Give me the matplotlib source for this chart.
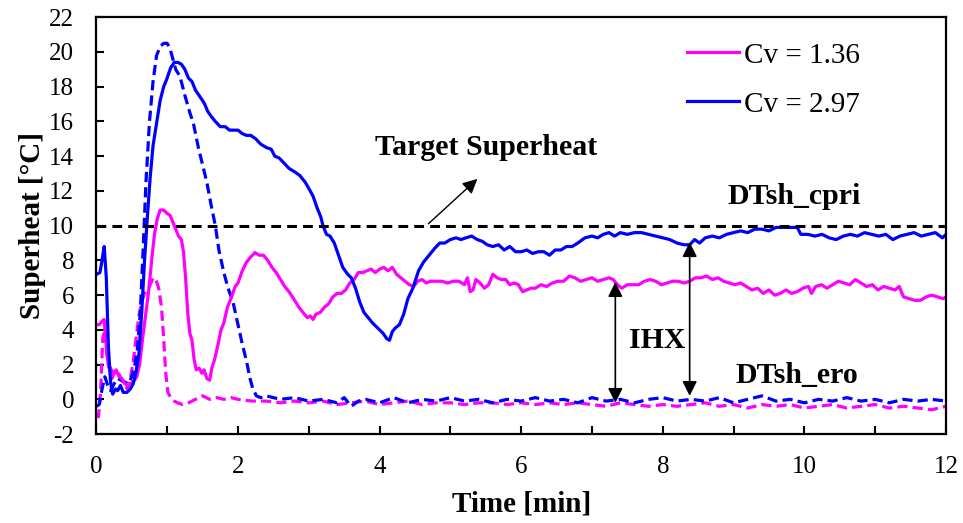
"""Superheat vs tiempo para dos aperturas de valvula (Cv = 1.36 y 2.97).

Lineas continuas: DTsh_cpri, lineas discontinuas: DTsh_ero.
"""

import matplotlib

matplotlib.use("Agg")
import matplotlib.pyplot as plt
from matplotlib.ticker import MultipleLocator

plt.rcParams["font.family"] = ["Liberation Serif", "DejaVu Serif"]
plt.rcParams["axes.unicode_minus"] = False

MAGENTA = "#FF00FF"
BLUE = "#0000FF"
TARGET = 10.0

# --- Cv = 2.97, DTsh_cpri (solid blue) ---
t_cpri_297 = [
    0.00, 0.05, 0.08, 0.11, 0.14, 0.17, 0.20, 0.23, 0.27, 0.30, 0.34, 0.38, 0.43, 0.48,
    0.52, 0.56, 0.60, 0.64, 0.68, 0.72, 0.76, 0.80, 0.85, 0.90, 0.95, 0.99, 1.05, 1.10,
    1.15, 1.20, 1.25, 1.30, 1.35, 1.40, 1.45, 1.50, 1.53, 1.57, 1.62, 1.68, 1.75, 1.82,
    1.88, 1.95, 2.00, 2.06, 2.12, 2.18, 2.25, 2.32, 2.40, 2.47, 2.52, 2.58, 2.64, 2.72,
    2.80, 2.87, 2.95, 3.02, 3.06, 3.12, 3.17, 3.20, 3.25, 3.30, 3.36, 3.42, 3.48, 3.55,
    3.60, 3.66, 3.72, 3.78, 3.84, 3.90, 3.95, 4.00, 4.05, 4.10, 4.14, 4.18, 4.22, 4.28,
    4.34, 4.40, 4.47, 4.55, 4.62, 4.70, 4.78, 4.85, 4.92, 5.00, 5.08, 5.15, 5.22, 5.30,
    5.38, 5.45, 5.52, 5.60, 5.68, 5.76, 5.84, 5.92, 6.00, 6.08, 6.16, 6.24, 6.32, 6.40,
    6.48, 6.56, 6.64, 6.72, 6.80, 6.90, 7.00, 7.08, 7.16, 7.24, 7.32, 7.40, 7.50, 7.60,
    7.70, 7.80, 7.90, 8.00, 8.10, 8.20, 8.30, 8.38, 8.45, 8.52, 8.60, 8.70, 8.80, 8.90,
    9.00, 9.10, 9.20, 9.30, 9.40, 9.50, 9.60, 9.70, 9.80, 9.90, 9.95, 10.05, 10.15, 10.25,
    10.35, 10.45, 10.55, 10.65, 10.75, 10.85, 10.95, 11.05, 11.15, 11.25, 11.35, 11.45,
    11.55, 11.65, 11.75, 11.85, 11.95, 12.00,
]
sh_cpri_297 = [
    7.2, 7.3, 8.0, 8.8, 7.0, 3.0, 1.0, 0.3, 0.6, 0.5, 0.8, 0.4, 0.4, 0.6,
    0.9, 1.6, 2.6, 5.0, 8.0, 10.5, 12.8, 14.6, 15.9, 17.2, 18.0, 18.4, 19.1, 19.4,
    19.4, 19.3, 19.0, 18.5, 18.3, 17.8, 17.5, 17.2, 17.0, 16.6, 16.3, 16.0, 15.7, 15.7,
    15.5, 15.5, 15.5, 15.3, 15.2, 15.2, 15.0, 14.7, 14.5, 14.4, 14.0, 13.9, 13.65, 13.3,
    13.1, 12.9, 12.5, 12.0, 11.7, 11.0, 10.5, 10.0, 9.5, 9.4, 9.0, 8.3, 7.6, 7.2,
    7.0, 6.4, 5.6, 5.0, 4.7, 4.4, 4.2, 4.0, 3.8, 3.5, 3.4, 3.9, 4.1, 4.3,
    4.9, 5.8, 6.4, 7.4, 7.9, 8.3, 8.7, 9.0, 9.0, 9.2, 9.3, 9.2, 9.3, 9.4,
    9.2, 9.1, 8.9, 8.8, 8.9, 8.6, 8.8, 8.5, 8.5, 8.6, 8.4, 8.5, 8.5, 8.3,
    8.6, 8.6, 8.8, 8.8, 9.0, 9.3, 9.4, 9.3, 9.5, 9.6, 9.4, 9.6, 9.5, 9.6,
    9.6, 9.5, 9.4, 9.3, 9.2, 9.0, 8.9, 8.9, 9.2, 9.0, 9.3, 9.4, 9.3, 9.5,
    9.6, 9.7, 9.6, 9.8, 9.8, 9.7, 9.9, 9.9, 9.9, 9.9, 9.5, 9.5, 9.4, 9.5,
    9.3, 9.2, 9.4, 9.5, 9.4, 9.6, 9.5, 9.4, 9.5, 9.2, 9.4, 9.5,
    9.6, 9.4, 9.5, 9.6, 9.3, 9.5,
]

# --- Cv = 1.36, DTsh_cpri (solid magenta) ---
t_cpri_136 = [
    0.00, 0.04, 0.08, 0.11, 0.14, 0.17, 0.20, 0.24, 0.28, 0.32, 0.36, 0.40, 0.44, 0.48,
    0.52, 0.57, 0.61, 0.65, 0.70, 0.74, 0.78, 0.82, 0.86, 0.90, 0.95, 1.00, 1.04, 1.08,
    1.12, 1.16, 1.20, 1.23, 1.26, 1.29, 1.32, 1.35, 1.38, 1.41, 1.45, 1.49, 1.52, 1.56,
    1.60, 1.63, 1.67, 1.72, 1.76, 1.80, 1.85, 1.90, 1.96, 2.00, 2.06, 2.12, 2.18, 2.24,
    2.30, 2.36, 2.42, 2.48, 2.54, 2.60, 2.66, 2.72, 2.80, 2.86, 2.92, 2.98, 3.02, 3.06,
    3.10, 3.16, 3.22, 3.28, 3.34, 3.40, 3.46, 3.52, 3.58, 3.64, 3.70, 3.76, 3.82, 3.88,
    3.94, 4.00, 4.06, 4.12, 4.18, 4.24, 4.30, 4.36, 4.42, 4.48, 4.54, 4.60, 4.66, 4.72,
    4.80, 4.88, 4.96, 5.04, 5.12, 5.20, 5.24, 5.28, 5.32, 5.36, 5.42, 5.48, 5.54, 5.60,
    5.66, 5.72, 5.78, 5.84, 5.90, 5.96, 6.02, 6.08, 6.14, 6.20, 6.28, 6.36, 6.44, 6.52,
    6.60, 6.68, 6.76, 6.84, 6.92, 7.00, 7.08, 7.16, 7.24, 7.30, 7.36, 7.42, 7.50, 7.58,
    7.66, 7.74, 7.82, 7.90, 7.98, 8.06, 8.14, 8.22, 8.30, 8.38, 8.46, 8.54, 8.62, 8.70,
    8.78, 8.86, 8.94, 9.02, 9.10, 9.18, 9.26, 9.34, 9.42, 9.50, 9.58, 9.66, 9.74, 9.82,
    9.90, 9.98, 10.06, 10.10, 10.16, 10.24, 10.32, 10.40, 10.48, 10.56, 10.64, 10.72,
    10.80, 10.88, 10.96, 11.04, 11.12, 11.20, 11.28, 11.34, 11.40, 11.48, 11.56, 11.64,
    11.72, 11.80, 11.88, 11.96, 12.00,
]
sh_cpri_136 = [
    4.3, 4.3, 4.5, 4.6, 3.0, 1.9, 1.8, 1.4, 1.7, 1.3, 1.2, 0.9, 0.8, 0.9,
    1.0, 1.3, 2.0, 3.4, 5.0, 6.3, 8.0, 9.5, 10.4, 10.9, 10.9, 10.7, 10.6, 10.2,
    9.8, 9.4, 9.2, 8.5, 7.0, 5.0, 3.8, 3.4, 2.3, 1.7, 1.8, 1.5, 1.7, 1.2,
    1.1, 1.8, 2.3, 3.2, 4.0, 4.4, 5.3, 5.8, 6.5, 6.7, 7.4, 7.9, 8.2, 8.45,
    8.3, 8.3, 8.0, 7.6, 7.3, 6.9, 6.5, 6.2, 5.7, 5.3, 5.0, 4.7, 4.8, 4.6,
    4.9, 5.0, 5.3, 5.5, 5.9, 6.1, 6.1, 6.3, 6.7, 6.9, 7.3, 7.3, 7.4, 7.5,
    7.3, 7.5, 7.6, 7.4, 7.6, 7.2, 7.0, 6.8, 6.6, 6.5, 6.8, 6.9, 6.7, 6.8,
    6.8, 6.8, 6.7, 6.8, 6.8, 6.6, 7.0, 6.2, 6.3, 6.9, 6.7, 6.4, 6.6, 7.2,
    7.0, 6.9, 6.9, 6.6, 6.7, 6.6, 6.2, 6.3, 6.4, 6.4, 6.6, 6.5, 6.7, 6.8,
    6.8, 7.1, 7.0, 6.8, 6.9, 7.0, 6.8, 6.9, 7.0, 6.9, 6.6, 6.4, 6.6, 6.6,
    6.6, 6.8, 6.9, 6.8, 6.6, 6.7, 6.8, 6.8, 6.7, 6.8, 7.0, 7.0, 7.1, 6.9,
    7.0, 6.8, 6.7, 6.6, 6.7, 6.5, 6.3, 6.4, 6.1, 6.3, 6.0, 6.1, 6.3, 6.1,
    6.2, 6.4, 6.5, 6.1, 6.5, 6.6, 6.4, 6.6, 6.8, 6.7, 6.6, 6.9,
    6.7, 6.5, 6.6, 6.3, 6.5, 6.4, 6.3, 6.5, 5.9, 5.8, 5.7, 5.7,
    5.9, 6.0, 5.9, 5.8, 5.9,
]

# --- Cv = 2.97, DTsh_ero (dashed blue) ---
t_ero_297 = [
    0.00, 0.04, 0.08, 0.12, 0.16, 0.20, 0.25, 0.30, 0.35, 0.40, 0.45, 0.50, 0.54, 0.58,
    0.62, 0.66, 0.70, 0.75, 0.80, 0.85, 0.90, 0.95, 1.00, 1.04, 1.08, 1.12, 1.18, 1.25,
    1.32, 1.37, 1.44, 1.50, 1.56, 1.62, 1.68, 1.73, 1.80, 1.86, 1.93, 2.00, 2.06, 2.12,
    2.17, 2.21, 2.26, 2.32, 2.40, 2.60, 2.80, 3.00, 3.20, 3.40, 3.50, 3.60, 3.70, 3.80,
    4.00, 4.20, 4.40, 4.60, 4.80, 5.00, 5.20, 5.40, 5.60, 5.80, 6.00, 6.20, 6.40, 6.60,
    6.80, 7.00, 7.20, 7.40, 7.60, 7.80, 8.00, 8.20, 8.40, 8.60, 8.80, 9.00, 9.20, 9.40,
    9.60, 9.80, 10.00, 10.20, 10.40, 10.60, 10.80, 11.00, 11.20, 11.40, 11.60, 11.80, 12.00,
]
sh_ero_297 = [
    -0.4, -0.3, 0.6, 1.3, 0.8, 0.5, 0.9, 1.2, 1.1, 1.0, 0.9, 1.3, 1.9, 2.9,
    5.0, 8.6, 12.5, 16.0, 18.3, 19.8, 20.3, 20.5, 20.5, 20.2, 19.6, 19.0, 18.6, 17.5,
    16.5, 15.9, 14.5, 13.5, 12.5, 11.2, 10.0, 8.6, 7.3, 6.4, 5.6, 4.3, 3.2, 2.2,
    1.2, 0.6, 0.2, 0.1, 0.2, 0.0, 0.1, -0.1, 0.0, -0.2, 0.1, -0.4, -0.1, 0.0,
    -0.2, 0.1, -0.2, 0.0, -0.1, 0.1, -0.1, 0.0, -0.2, 0.0, -0.1, 0.1, -0.1, 0.0,
    -0.2, 0.1, -0.1, 0.0, -0.2, 0.0, 0.1, -0.1, 0.0, -0.1, 0.1, -0.2, 0.0, 0.2,
    -0.1, 0.0, -0.2, 0.0, -0.1, 0.1, -0.1, 0.0, -0.2, 0.0, -0.1, 0.0, -0.1,
]

# --- Cv = 1.36, DTsh_ero (dashed magenta) ---
t_ero_136 = [
    0.00, 0.03, 0.06, 0.09, 0.12, 0.15, 0.18, 0.22, 0.26, 0.30, 0.35, 0.40, 0.44, 0.48,
    0.52, 0.56, 0.60, 0.64, 0.68, 0.72, 0.76, 0.80, 0.84, 0.88, 0.92, 0.95, 0.98, 1.01,
    1.05, 1.10, 1.15, 1.22, 1.30, 1.40, 1.50, 1.60, 1.70, 1.80, 1.90, 2.00, 2.20, 2.40,
    2.60, 2.80, 3.00, 3.20, 3.40, 3.60, 3.80, 4.00, 4.20, 4.40, 4.60, 4.80, 5.00, 5.20,
    5.40, 5.60, 5.80, 6.00, 6.20, 6.40, 6.60, 6.80, 7.00, 7.20, 7.40, 7.60, 7.80, 8.00,
    8.20, 8.40, 8.60, 8.80, 9.00, 9.20, 9.40, 9.60, 9.80, 10.00, 10.20, 10.40, 10.60,
    10.80, 11.00, 11.20, 11.40, 11.60, 11.80, 12.00,
]
sh_ero_136 = [
    -0.9, -1.0, 0.5, 3.5, 4.0, 2.5, 1.8, 1.2, 1.7, 1.6, 1.2, 0.8, 0.6, 1.2,
    2.2, 3.5, 4.8, 5.6, 6.1, 6.3, 6.6, 7.0, 6.9, 6.4, 5.3, 3.5, 1.5, 0.4,
    0.1, -0.1, -0.2, -0.3, -0.2, 0.0, 0.2, 0.0, 0.1, 0.0, 0.1, 0.0, -0.1, -0.1,
    -0.2, -0.1, -0.2, -0.1, -0.3, -0.2, -0.1, -0.3, -0.2, -0.1, -0.3, -0.2, -0.2, -0.3,
    -0.2, -0.2, -0.3, -0.2, -0.3, -0.2, -0.3, -0.2, -0.3, -0.4, -0.2, -0.3, -0.4, -0.3,
    -0.4, -0.3, -0.2, -0.4, -0.3, -0.5, -0.3, -0.4, -0.3, -0.5, -0.4, -0.3, -0.5,
    -0.4, -0.3, -0.5, -0.4, -0.5, -0.6, -0.4,
]

x_ticks = [0, 2, 4, 6, 8, 10, 12]
y_ticks = [-2, 0, 2, 4, 6, 8, 10, 12, 14, 16, 18, 20, 22]

# annotation anchors (data coords)
ihx_arrow_1 = (7.33, 6.75, -0.2)   # x, top, bottom
ihx_arrow_2 = (8.38, 9.05, 0.2)


def main() -> None:
    fig = plt.figure(figsize=(9.63, 5.23), dpi=100)
    ax = fig.add_axes([0.1001, 0.170, 0.8822, 0.797])

    lw = 2.3
    ax.plot(t_ero_136, sh_ero_136, color=MAGENTA, lw=lw, ls=(0, (3.2, 1.6)))
    ax.plot(t_ero_297, sh_ero_297, color=BLUE, lw=lw, ls=(0, (3.2, 1.6)))
    ax.plot(t_cpri_136, sh_cpri_136, color=MAGENTA, lw=lw, label="Cv = 1.36")
    ax.plot(t_cpri_297, sh_cpri_297, color=BLUE, lw=lw, label="Cv = 2.97")
    ax.plot([0, 12], [TARGET, TARGET], color="black", lw=2.2, ls=(0, (3.2, 2.0)))

    ax.set_xlim(0, 12)
    ax.set_ylim(-2, 22)
    ax.set_xticks(x_ticks)
    ax.set_yticks(y_ticks)
    ax.xaxis.set_minor_locator(MultipleLocator(1))
    ax.tick_params(which="both", direction="in", length=6, width=1.5, labelsize=18)
    ax.tick_params(axis="x", pad=16)
    ax.tick_params(axis="y", pad=16)
    for s in ax.spines.values():
        s.set_linewidth(1.6)

    ax.set_xlabel("Time [min]", fontsize=21, fontweight="bold", labelpad=9)
    ax.set_ylabel("Superheat [°C]", fontsize=21, fontweight="bold", labelpad=2)

    ax.legend(
        loc="upper left",
        bbox_to_anchor=(0.695, 0.94),
        frameon=False,
        fontsize=21,
        handlelength=1.8,
        handletextpad=0.17,
        labelspacing=0.77,
        borderpad=0,
        borderaxespad=0,
    )

    bold = dict(fontsize=21.5, fontweight="bold", ha="center", va="center")
    ax.text(5.5, 14.5, "Target Superheat", **bold)
    ax.annotate(
        "",
        xy=(5.41, 12.8),
        xytext=(4.66, 10.0),
        arrowprops=dict(arrowstyle="-|>", color="black", lw=1.0, mutation_scale=22),
    )
    ax.text(9.85, 11.7, "DTsh_cpri", **bold)
    ax.text(9.89, 1.4, "DTsh_ero", **bold)
    ax.text(7.92, 3.4, "IHX", **bold)

    for x, top, bot in (ihx_arrow_1, ihx_arrow_2):
        ax.annotate(
            "",
            xy=(x, top),
            xytext=(x, bot),
            arrowprops=dict(
                arrowstyle="<|-|>", color="black", lw=1.2, mutation_scale=22,
                shrinkA=0, shrinkB=0,
            ),
        )

    fig.savefig("out.png", dpi=100)
    plt.close(fig)


if __name__ == "__main__":
    main()
